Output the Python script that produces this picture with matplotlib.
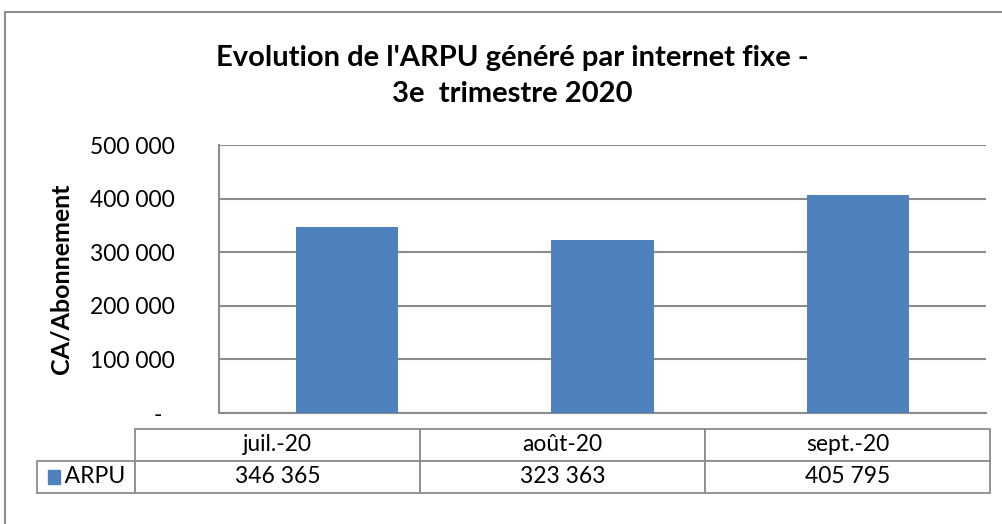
import matplotlib.pyplot as plt
from matplotlib.patches import Rectangle
from matplotlib.ticker import FuncFormatter

months = ["juil.-20", "août-20", "sept.-20"]
arpu = [346365, 323363, 405795]
series_name = "ARPU"
title = "Evolution de l'ARPU généré par internet fixe -\n3e  trimestre 2020"
ylabel = "CA/Abonnement"

plt.rcParams["font.family"] = ["Lato", "DejaVu Sans"]

W, H = 1002, 524
fig = plt.figure(figsize=(W / 100, H / 100), dpi=100)
blue = "#4F81BD"
grey = "#8C8C8C"

# outer chart border (cropped on right and bottom)
fig.patches.append(Rectangle((5 / W, -0.1), 1.2, 1 - 12 / H + 0.1,
                             transform=fig.transFigure, fill=False,
                             edgecolor=grey, lw=1.5))

x0, x1, ytop, ybot = 219, 986, 145, 413
ax = fig.add_axes([x0 / W, 1 - ybot / H, (x1 - x0) / W, (ybot - ytop) / H])

xs = range(len(months))
ax.bar(xs, arpu, width=0.4, color=blue, zorder=3)
ax.set_xlim(-0.5, len(months) - 0.5)
ax.set_ylim(0, 500000)
ax.set_yticks(range(0, 500001, 100000))
ax.yaxis.set_major_formatter(FuncFormatter(
    lambda v, p: "-  " if v == 0 else f"{int(v):,}".replace(",", " ")))
ax.tick_params(axis="y", length=0, pad=32, labelsize=16.5)
ax.set_xticks([])
ax.grid(axis="y", color=grey, lw=1.5, zorder=0)
for s in ["top", "right"]:
    ax.spines[s].set_visible(False)
for s in ["left", "bottom"]:
    ax.spines[s].set_color(grey)
    ax.spines[s].set_linewidth(1.5)

ax.set_ylabel(ylabel, fontsize=18, fontweight="bold")
ax.yaxis.set_label_coords((73 - x0) / (x1 - x0), 0.5)

fig.text(512 / W, 1 - 76 / H, title, ha="center", va="center",
         fontsize=21, fontweight="bold", linespacing=1.45)

# data table
axw = x1 - x0
axh = ybot - ytop
t_left, t_right, t_top, t_bot = 37, 990, 429, 493
tbl = ax.table(cellText=[["   " + series_name] + [f"{v:,}".replace(",", " ") for v in arpu]],
               colLabels=[""] + months,
               colWidths=[98, 285, 285, 285],
               cellLoc="center",
               bbox=[(t_left - x0) / axw, (ybot - t_bot) / axh,
                     (t_right - t_left) / axw, (t_bot - t_top) / axh])
tbl.auto_set_font_size(False)
for (r, c), cell in tbl.get_celld().items():
    cell.set_edgecolor(grey)
    cell.set_linewidth(1.3)
    cell.get_text().set_fontsize(16.5)
tbl[(0, 0)].set_visible(False)

fig.patches.append(Rectangle((48 / W, 1 - 484 / H), 12 / W, 14 / H,
                             transform=fig.transFigure, color=blue))

fig.savefig("out.png", dpi=100)
